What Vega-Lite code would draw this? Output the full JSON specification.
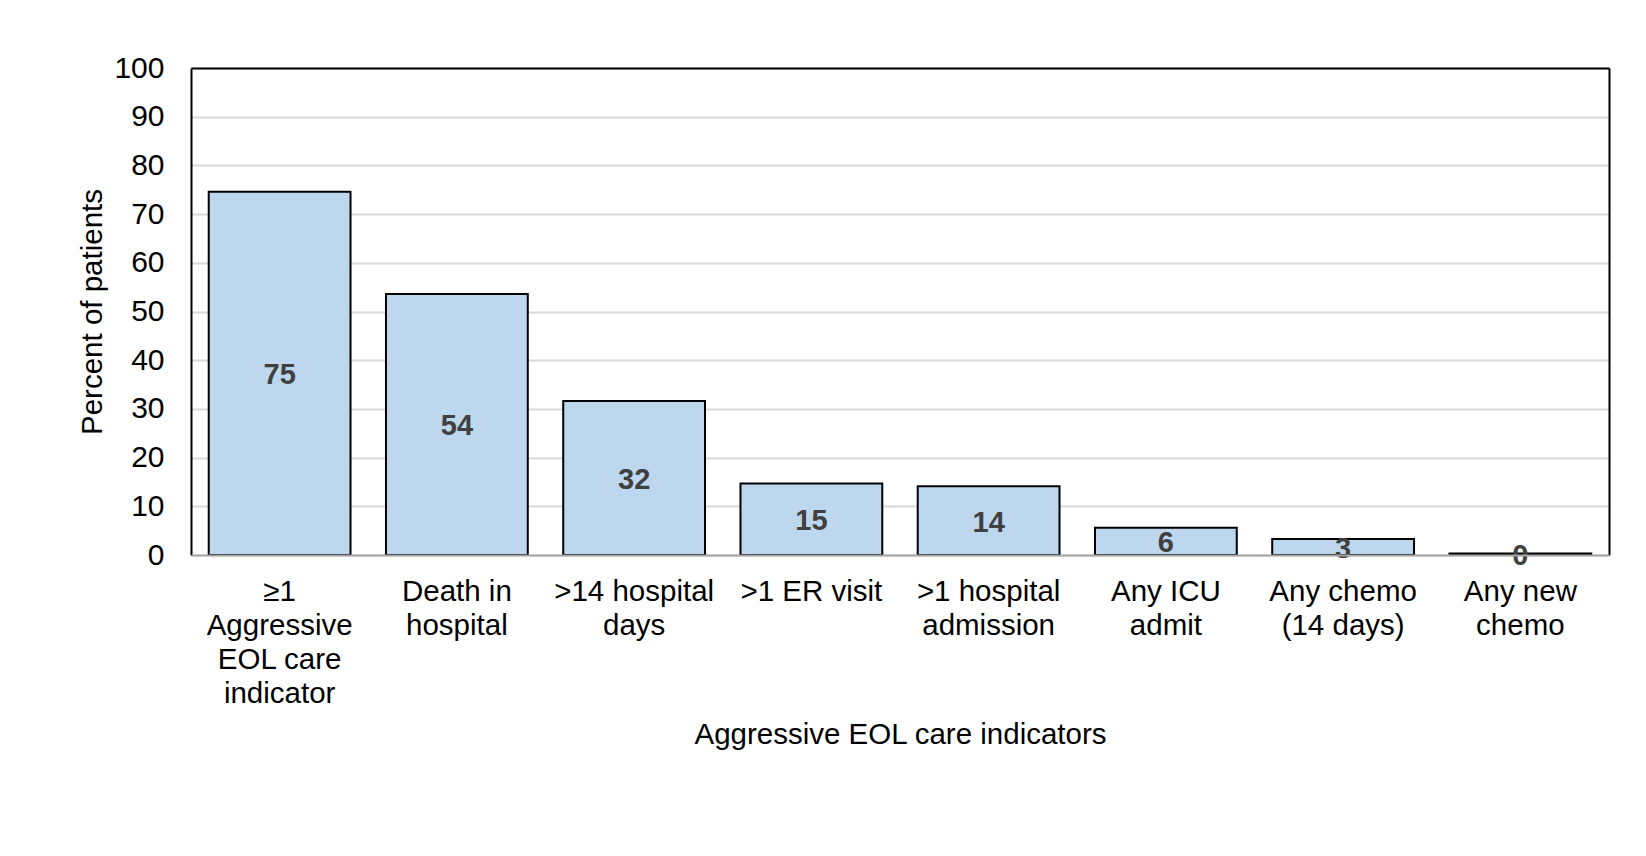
{
  "$schema": "https://vega.github.io/schema/vega-lite/v6.json",
  "width": 1418,
  "height": 487,
  "autosize": {"type": "none"},
  "padding": {"left": 191, "top": 68, "right": 37, "bottom": 301},
  "background": "white",
  "config": {"view": {"stroke": null}, "font": "Liberation Sans"},
  "data": {
    "values": [
      {"indicator": "≥1|Aggressive|EOL care|indicator", "value": 74.6},
      {"indicator": "Death in|hospital", "value": 53.6},
      {"indicator": ">14 hospital|days", "value": 31.6},
      {"indicator": ">1 ER visit", "value": 14.7},
      {"indicator": ">1 hospital|admission", "value": 14.1},
      {"indicator": "Any ICU|admit", "value": 5.6},
      {"indicator": "Any chemo|(14 days)", "value": 3.3},
      {"indicator": "Any new|chemo", "value": 0.3}
    ]
  },
  "layer": [
    {
      "mark": {"type": "bar", "fill": "#bdd7ee", "stroke": "#000000", "strokeWidth": 2},
      "encoding": {
        "x": {
          "field": "indicator", "type": "nominal", "sort": null,
          "scale": {"paddingInner": 0.2, "paddingOuter": 0.1},
          "axis": {
            "orient": "bottom", "title": "Aggressive EOL care indicators",
            "labelExpr": "split(datum.label, '|')",
            "labelAngle": 0, "labelFontSize": 29.5, "labelColor": "#000000",
            "labelLineHeight": 34, "labelPadding": 22, "labelBaseline": "top",
            "ticks": false, "tickSize": 0, "labelLimit": 0,
            "domainColor": "#a6a6a6", "domainWidth": 2,
            "titleFontSize": 29.5, "titleFontWeight": "normal", "titleColor": "#000000",
            "titlePadding": 13, "zindex": 1, "grid": false
          }
        },
        "y": {
          "field": "value", "type": "quantitative",
          "scale": {"domain": [0, 100], "nice": false},
          "axis": {
            "orient": "left", "title": "Percent of patients",
            "values": [0, 10, 20, 30, 40, 50, 60, 70, 80, 90, 100],
            "labelFontSize": 30, "labelColor": "#000000", "labelPadding": 27,
            "ticks": false, "tickSize": 0,
            "domainColor": "#000000", "domainWidth": 2,
            "grid": true, "gridColor": "#d9d9d9", "gridWidth": 2,
            "titleFontSize": 29.5, "titleFontWeight": "normal", "titleColor": "#000000",
            "titlePadding": 6
          }
        }
      }
    },
    {
      "transform": [{"calculate": "datum.value / 2", "as": "mid"}],
      "mark": {"type": "text", "fontSize": 29, "fontWeight": "bold", "color": "#404040", "baseline": "middle", "align": "center", "dy": 2},
      "encoding": {
        "x": {
          "field": "indicator", "type": "nominal", "sort": null,
          "axis": {"orient": "top", "title": null, "labels": false, "ticks": false, "grid": false, "domainColor": "#000000", "domainWidth": 2}
        },
        "y": {
          "field": "mid", "type": "quantitative",
          "axis": {"orient": "right", "title": null, "labels": false, "ticks": false, "grid": false, "domainColor": "#000000", "domainWidth": 2}
        },
        "text": {"field": "value", "type": "quantitative", "format": ".0f"}
      }
    }
  ],
  "resolve": {"axis": {"x": "independent", "y": "independent"}}
}
